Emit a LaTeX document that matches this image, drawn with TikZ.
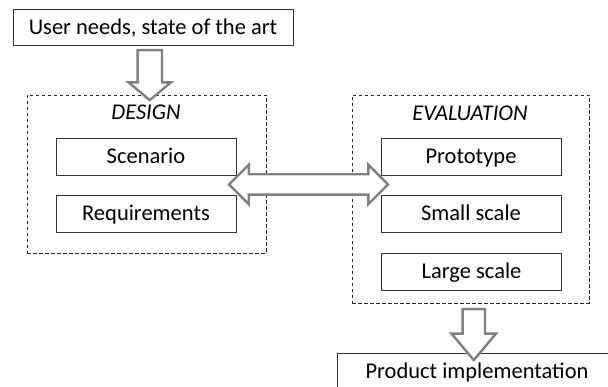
\documentclass[tikz,border=0pt]{standalone}
\usepackage{fontspec}
\setmainfont{Carlito}
\usetikzlibrary{shapes.arrows,calc}
\begin{document}
\begin{tikzpicture}[x=1pt,y=-1pt,
  txt/.style={font=\fontsize{22.5}{27}\selectfont, text height=14.5pt, text depth=0pt, inner sep=0pt},
  box/.style={txt, draw=black!80, line width=0.9pt, minimum width=180pt, minimum height=37pt},
  group/.style={draw=black!85, line width=0.8pt, dash pattern=on 3.5pt off 2.5pt, inner sep=0pt},
  blockarrow/.style={draw=black!50, fill=white, line width=2.4pt, inner sep=0pt, outer sep=0pt}
]
\useasboundingbox (0,0) rectangle (608,387);
\clip (0,0) rectangle (608,387);

% groups
\node[group, minimum width=239pt, minimum height=158pt] (design) at (146.5,174) {};
\node[group, minimum width=237pt, minimum height=208pt] (eval) at (470.5,199) {};
\node[txt, font=\fontsize{22.5}{27}\selectfont\itshape] (designlbl) at (146,112) {DESIGN};
\node[txt, font=\fontsize{22.5}{27}\selectfont\itshape] (evallbl) at (470,113) {EVALUATION};

% boxes
\node[box, minimum width=280pt, minimum height=36pt] (needs) at (153,27) {User needs, state of the art};
\node[box] (scen) at (146,156.5) {Scenario};
\node[box] (req) at (146,213.5) {Requirements};
\node[box] (proto) at (471,156.5) {Prototype};
\node[box] (small) at (471,213.5) {Small scale};
\node[box] (large) at (471.5,271.5) {Large scale};
\node[box, minimum width=280pt, minimum height=37pt] (product) at (477,371.5) {Product implementation};

% block arrows
\node[blockarrow, single arrow, rotate=-90, minimum height=50pt, inner ysep=11pt, inner xsep=0pt,
      single arrow head extend=9pt, single arrow tip angle=100] (down1)
      at ($(needs.south)!0.5!(design.north)$ -| 146,0) {};
\node[blockarrow, single arrow, rotate=-90, minimum height=51pt, inner ysep=10pt, inner xsep=0pt,
      single arrow head extend=11pt, single arrow tip angle=80] (down2)
      at ($(eval.south)!0.5!(product.north)$ -| 478,0) {};
\node[blockarrow, double arrow, minimum height=159pt, inner ysep=9pt, inner xsep=0pt,
      double arrow head extend=9.5pt] (link)
      at ($(scen.south east)!0.5!(proto.south west) + (0,9)$) {};
\end{tikzpicture}
\end{document}
